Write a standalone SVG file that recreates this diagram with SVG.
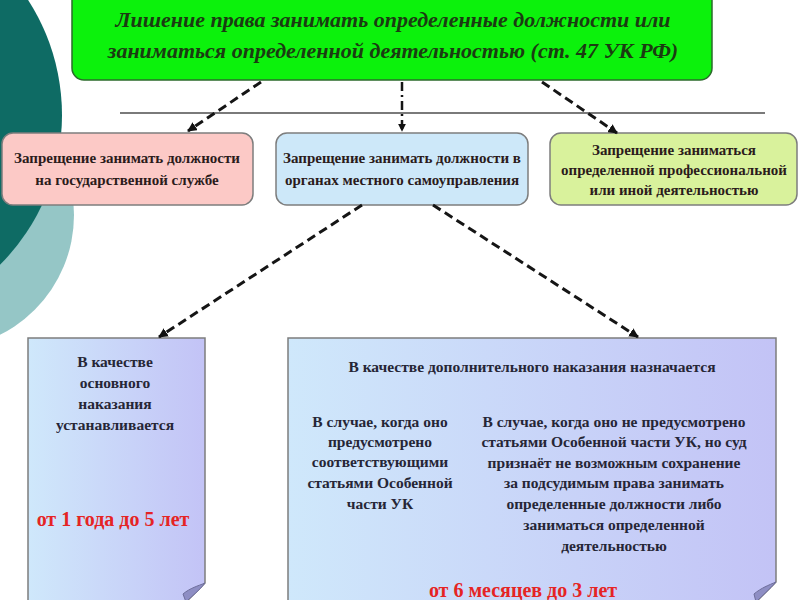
<svg xmlns="http://www.w3.org/2000/svg" width="800" height="600" viewBox="0 0 800 600">
<defs>
<marker id="arr" viewBox="0 0 10 10" refX="9" refY="5" markerWidth="3.2" markerHeight="3.2" orient="auto" markerUnits="strokeWidth">
<path d="M0,0 L10,5 L0,10 Z" fill="#111"/>
</marker>
<linearGradient id="page" x1="0" y1="0" x2="1" y2="0">
<stop offset="0" stop-color="#cfe8fb"/>
<stop offset="1" stop-color="#c3c3f6"/>
</linearGradient>
<style>
.t{font-weight:bold;text-anchor:middle}
.title{font-size:22px;font-style:italic;fill:#1b3b12}
.mid{font-size:15px;fill:#2b1b1b}
.body{font-size:15.5px;fill:#262636}
.red{font-size:20px;fill:#e52424}
.conn{fill:none;stroke:#151515;stroke-width:3;stroke-dasharray:9 5}
.box{stroke:#7d7d7d;stroke-width:1.5}
.fold{fill:#8e8ec4;stroke:#6d6d9a;stroke-width:1}
</style>
</defs>
<rect width="800" height="600" fill="#ffffff"/>
<g id="background">
<circle cx="-60" cy="215" r="134" fill="#95c6c6"/>
<circle cx="-150" cy="115" r="212" fill="#0e6b64"/>
</g>
<line x1="120" y1="113" x2="765" y2="113" stroke="#7a7a7a" stroke-width="2"/>
<g font-family="'Liberation Serif', 'Times New Roman', 'DejaVu Serif', serif">
<g id="n-title">
<rect x="72" y="-12" width="640" height="92" rx="12" fill="#0cf20c" stroke="#2b6b2b" stroke-width="1.5"/>
<text class="t title" x="393" y="27">Лишение права занимать определенные должности или</text>
<text class="t title" x="393" y="58">заниматься определенной деятельностью (ст. 47 УК РФ)</text>
</g>
<g id="n-state">
<rect class="box" x="2" y="133" width="251" height="72" rx="11" fill="#fcc9c6"/>
<text class="t mid" x="127" y="163">Запрещение занимать должности</text>
<text class="t mid" x="127" y="185">на государственной службе</text>
</g>
<g id="n-local">
<rect class="box" x="276" y="133" width="252" height="72" rx="11" fill="#cde8f9"/>
<text class="t mid" x="402" y="163">Запрещение занимать должности в</text>
<text class="t mid" x="402" y="185">органах местного самоуправления</text>
</g>
<g id="n-prof">
<rect class="box" x="550" y="133" width="247" height="72" rx="11" fill="#d9f29c"/>
<text class="t mid" x="674" y="155">Запрещение заниматься</text>
<text class="t mid" x="674" y="175">определенной профессиональной</text>
<text class="t mid" x="674" y="195">или иной деятельностью</text>
</g>
<g id="n-main">
<path class="box" d="M28,602 V338 H205 V583 L186,602 Z" fill="url(#page)"/>
<path class="fold" d="M205,583 C198,586 190,588 183,594 L186,602 C192,596 200,590 205,583 Z"/>
<text class="t body" x="115" y="367">В качестве</text>
<text class="t body" x="115" y="388">основного</text>
<text class="t body" x="115" y="409">наказания</text>
<text class="t body" x="115" y="430">устанавливается</text>
<text class="t red" x="113" y="526">от 1 года до 5 лет</text>
</g>
<g id="n-additional">
<path class="box" d="M288,602 V338 H776 V582 L756,602 Z" fill="url(#page)"/>
<path class="fold" d="M776,582 C769,585 761,588 754,594 L756,602 C762,596 770,589 776,582 Z"/>
<text class="t body" x="532" y="372">В качестве дополнительного наказания назначается</text>
<text class="t body" x="380" y="427">В случае, когда оно</text>
<text class="t body" x="380" y="447">предусмотрено</text>
<text class="t body" x="380" y="467">соответствующими</text>
<text class="t body" x="380" y="488">статьями Особенной</text>
<text class="t body" x="380" y="509">части УК</text>
<text class="t body" x="614" y="427">В случае, когда оно не предусмотрено</text>
<text class="t body" x="614" y="447">статьями Особенной части УК, но суд</text>
<text class="t body" x="614" y="468">признаёт не возможным сохранение</text>
<text class="t body" x="614" y="488">за подсудимым права занимать</text>
<text class="t body" x="614" y="509">определенные должности либо</text>
<text class="t body" x="614" y="530">заниматься определенной</text>
<text class="t body" x="614" y="551">деятельностью</text>
<text class="t red" x="523" y="597">от 6 месяцев до 3 лет</text>
</g>
</g>
<g id="connectors">
<path class="conn" d="M261,82 L188,131" marker-end="url(#arr)"/>
<path d="M402,82 L402,131" fill="none" stroke="#151515" stroke-width="2.5" stroke-dasharray="9 4 2 4" marker-end="url(#arr)"/>
<path class="conn" d="M542,82 L617,133" marker-end="url(#arr)"/>
<path class="conn" d="M362,205 L159,337" marker-end="url(#arr)"/>
<path class="conn" d="M433,205 L638,337" marker-end="url(#arr)"/>
</g>
</svg>
